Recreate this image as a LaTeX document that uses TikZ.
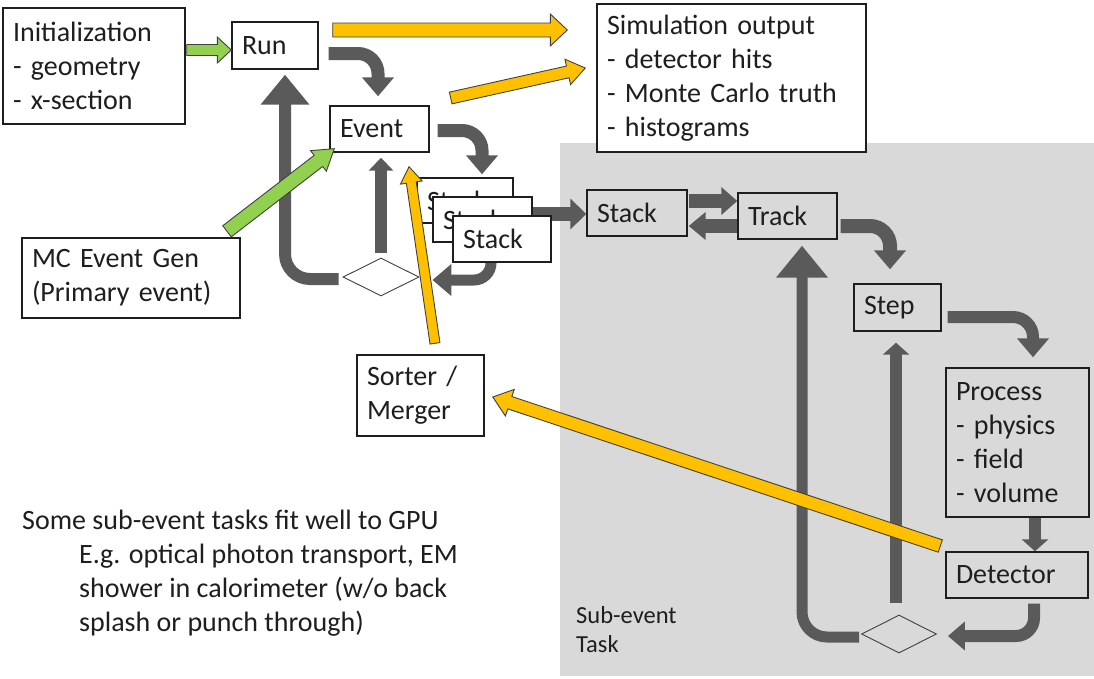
\documentclass[tikz,border=0pt]{standalone}
\usepackage{fontspec}
\setmainfont{Carlito}
\usetikzlibrary{arrows.meta,calc,shapes.geometric}

\definecolor{ink}{HTML}{1E1E1E}
\definecolor{flowgray}{HTML}{5A5A5A}
\definecolor{taskbg}{HTML}{D9D9D9}
\definecolor{outorange}{HTML}{FFC000}
\definecolor{ingreen}{HTML}{92D050}

\pgfdeclarelayer{taskarea}
\pgfdeclarelayer{flows}
\pgfsetlayers{taskarea,flows,main}

% outlined block arrow: [style]{from}{to}{half shaft}{half head}{head length}
\newcommand\blockarrow[6][]{%
  \path let \p1=(#2), \p2=(#3),
    \n1={atan2(\y2-\y1,\x2-\x1)},
    \n2={veclen(\x2-\x1,\y2-\y1)} in
    \pgfextra{\pgfmathsetmacro\blkA{\n1}\pgfmathsetmacro\blkL{\n2}%
      \global\let\blkangle\blkA\global\let\blklen\blkL};
  \begin{scope}[shift={(#2)},rotate=\blkangle]
    \draw[#1] (0,#4) -- ({\blklen-#6},#4) -- ({\blklen-#6},#5) -- (\blklen,0)
      -- ({\blklen-#6},-#5) -- ({\blklen-#6},-#4) -- (0,-#4) -- cycle;
  \end{scope}}

\begin{document}
\begin{tikzpicture}[x=1pt,y=-1pt,
  box/.style={draw=ink, line width=1.4pt, inner xsep=10pt, inner ysep=0pt,
    align=left, text=ink, font=\fontsize{28}{34}\selectfont},
  whitebox/.style={box, fill=white},
  decision/.style={diamond, draw=ink!85, line width=0.9pt, inner sep=0pt, aspect=2},
  elbow/.style={draw=flowgray, line width=13pt, rounded corners=20pt,
    -{Triangle[width=31pt,length=19pt]}},
  shuttle/.style={draw=flowgray, line width=14pt, -{Triangle[width=30pt,length=16pt]}},
  riser/.style={draw=flowgray, line width=11.5pt, -{Triangle[width=24pt,length=13pt]}},
  returnflow/.style={draw=flowgray, line width=12pt, rounded corners=25pt,
    -{Triangle[width=47pt,length=30pt]}},
  resultarrow/.style={fill=outorange, draw=ink!85, line width=0.9pt},
  feedarrow/.style={fill=ingreen, draw=ink!85, line width=0.9pt},
  note/.style={text=ink, align=left, inner sep=0pt, anchor=north west},
]
\useasboundingbox (0,0) rectangle (1094,678);

% sub-event task area
\begin{pgfonlayer}{taskarea}
  \fill[taskbg] (560,143) rectangle (1094,676);
\end{pgfonlayer}
\node[note, font=\fontsize{24.5}{29}\selectfont] (tasklabel) at (576,606) {Sub-event\\Task};

% event-level boxes
\node[whitebox, minimum width=182pt, minimum height=116pt, text width=162pt] (init) at (94,66)
  {Initialization\\- geometry\\- x-section};
\node[whitebox, minimum width=86pt, minimum height=47pt, text width=66pt] (run) at (275,45.5) {Run};
\node[whitebox, minimum width=269pt, minimum height=148pt, text width=249pt] (simout) at (731.5,78)
  {Simulation output\\- detector hits\\- Monte Carlo truth\\- histograms};
\node[whitebox, minimum width=99pt, minimum height=46pt, text width=79pt] (event) at (379.5,129) {Event};
\node[whitebox, minimum width=96pt, minimum height=45pt, text width=76pt] (stack1) at (465,200.5) {Stack};
\node[whitebox, minimum width=99pt, minimum height=45pt, text width=79pt] (stack2) at (482.5,219.5) {Stack};
\node[whitebox, minimum width=98pt, minimum height=46pt, text width=78pt] (stack3) at (502,239) {Stack};
\node[whitebox, minimum width=218pt, minimum height=80pt, text width=198pt] (mcgen) at (131,278)
  {MC Event Gen\\(Primary event)};
\node[whitebox, minimum width=127pt, minimum height=81pt, text width=107pt] (sorter) at (420.5,395.5)
  {Sorter /\\Merger};
\node[decision, minimum width=76pt, minimum height=38pt] (dl) at (381,277) {};

% sub-event boxes
\node[box, minimum width=100pt, minimum height=46pt, text width=80pt] (stackR) at (637,213) {Stack};
\node[box, minimum width=99pt, minimum height=46pt, text width=79pt] (track) at (787.5,216) {Track};
\node[box, minimum width=87pt, minimum height=47pt, text width=67pt] (step) at (897.5,307.5) {Step};
\node[box, minimum width=143pt, minimum height=149pt, text width=123pt] (process) at (1017.5,442.5)
  {Process\\- physics\\- field\\- volume};
\node[box, minimum width=142pt, minimum height=46pt, text width=122pt] (detector) at (1017,575) {Detector};
\node[decision, minimum width=75pt, minimum height=38pt] (dr) at (899,634) {};

% note
\node[note, font=\fontsize{28}{34}\selectfont] (gpu) at (22,510)
  {Some sub-event tasks fit well to GPU\\
   \hspace*{57pt}E.g. optical photon transport, EM\\
   \hspace*{57pt}shower in calorimeter (w/o back\\
   \hspace*{57pt}splash or punch through)};

% control flow
\begin{pgfonlayer}{flows}
  \draw[elbow] ($(run.east)+(10,8)$) -| ($(event.north)+(-1.5,-9)$);
  \draw[elbow] ($(event.east)+(8,1.5)$) -| ($(stack1.north)+(17,-3)$);
  \draw[riser] ($(dl.north)+(0,-5)$) -- ($(event.south)+(1.5,5)$);
  \draw[returnflow] ($(dl.west)+(-4,2)$) -| ($(run.south)+(10,5)$);
  \draw[elbow, line width=11pt, rounded corners=17pt] ($(stack3.south)+(-11,0)$) |- ($(dl.east)+(13,3)$);
  \draw[shuttle] ($(stack2.east)+(0,-5.5)$) -- ($(stackR.west)+(0,1)$);
  \draw[shuttle, -{Triangle[width=27pt,length=16pt]}] ($(stackR.east)+(1,-12)$) -- ($(track.west)+(0,-15)$);
  \draw[shuttle, -{Triangle[width=27pt,length=17pt]}] ($(track.west)+(0,10)$) -- ($(stackR.east)+(1,13)$);
  \draw[elbow, line width=14pt] ($(track.east)+(3,10)$) -| ($(step.north)+(-7.5,-14)$);
  \draw[elbow, line width=12pt] ($(step.east)+(6,9.5)$) -| ($(process.north)+(15.5,-10)$);
  \draw[riser, line width=12pt, -{Triangle[width=26pt,length=12pt]}] ($(process.south)+(17.5,0)$) -- ($(detector.north)+(18,0)$);
  \draw[elbow, line width=12pt, rounded corners=18pt, -{Triangle[width=28pt,length=17pt]}]
    ($(detector.south)+(17,5)$) |- ($(dr.east)+(11,2)$);
  \draw[returnflow, line width=11pt, -{Triangle[width=50pt,length=32pt]}] ($(dr.west)+(-2,3)$) -| ($(track.south)+(14.5,6)$);
  \draw[riser, line width=12pt, -{Triangle[width=26pt,length=12pt]}] ($(dr.north)+(-3,-12)$) -- ($(step.south)+(-1.5,11)$);
\end{pgfonlayer}

% inputs
\blockarrow[feedarrow]{$(init.east)+(1,-16)$}{$(run.west)+(0,4.5)$}{5.5}{13}{14}
\blockarrow[feedarrow]{$(mcgen.north)+(96,-6)$}{$(event.south west)+(5,-4)$}{7}{13}{20}

% outputs and merging
\blockarrow[resultarrow]{$(run.east)+(14,-15.5)$}{$(simout.west)+(-29,-48)$}{7}{16}{17}
\blockarrow[resultarrow]{$(event.east)+(21,-31)$}{$(simout.west)+(-11,-10)$}{6}{13}{18}
\blockarrow[resultarrow]{$(sorter.north)+(14.5,-11)$}{$(event.south)+(29.5,14)$}{5}{11}{16}
\blockarrow[resultarrow]{$(detector.west)+(-5,-29)$}{$(sorter.east)+(8,1.5)$}{6.5}{14}{18}
\end{tikzpicture}
\end{document}
